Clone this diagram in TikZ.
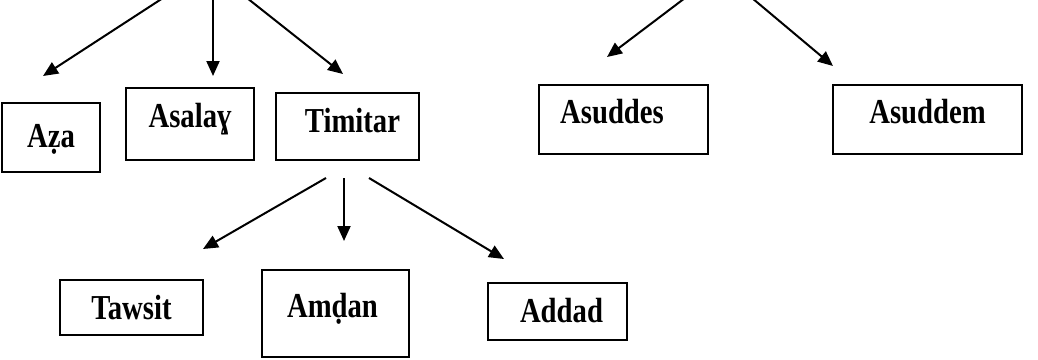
\documentclass[tikz,border=0pt]{standalone}
\usepackage{fontspec}
\setmainfont[FakeStretch=0.82]{Liberation Serif}
\usetikzlibrary{arrows.meta, positioning, calc}

\begin{document}
\begin{tikzpicture}[x=0.5pt, y=-0.5pt,
    box/.style={draw, line width=1pt, inner sep=0pt,
        font=\fontsize{17.5}{19}\selectfont\bfseries},
    arr/.style={-{Triangle[length=7.5pt, width=6.5pt]}, line width=1pt}]
    \useasboundingbox (0,0) rectangle (1038,359);

    % first row of boxes
    \node[box, minimum width=49pt, text height=22pt, text depth=12.5pt] (aza) at (51,137.5) {Aẓa};
    \node[box, minimum width=64pt, text height=19.5pt, text depth=16.5pt] (asalay) at (190,124) {Asalaɣ};
    \node[box, minimum width=71.5pt, text height=19.5pt, text depth=14pt] (timitar) at (347.5,126.5) {\mbox{}\hspace{5pt}Timitar};
    \node[box, minimum width=84.5pt, text height=19pt, text depth=15.5pt] (asuddes) at (623.5,119.5) {Asuddes\hspace{11.5pt}\mbox{}};
    \node[box, minimum width=94.5pt, text height=19pt, text depth=15.5pt] (asuddem) at (927.5,119.5) {Asuddem};

    % second row of boxes
    \node[box, minimum width=71.5pt, text height=19.5pt, text depth=8pt] (tawsit) at (131.5,307.5) {Tawsit};
    \node[box, minimum width=73.5pt, text height=23.5pt, text depth=20pt] (amdan) at (335.5,313.5) {Amḍan\hspace{3pt}\mbox{}};
    \node[box, minimum width=69.5pt, text height=19.5pt, text depth=9pt] (addad) at (557.5,311.5) {\mbox{}\hspace{4pt}Addad};

    % arrow ends
    \coordinate (topA) at (163,-2);
    \coordinate (topB) at (213,-2);
    \coordinate (topC) at (247,-2);
    \coordinate (topD) at (685,-2);
    \coordinate (topE) at (752,-2);
    \coordinate (toAza) at (43,76);
    \coordinate (toAsalay) at (213,76);
    \coordinate (toTimitar) at (343,74);
    \coordinate (toAsuddes) at (607,57);
    \coordinate (toAsuddem) at (833,66);
    \coordinate (fromL) at (326,178);
    \coordinate (fromM) at (344,178);
    \coordinate (fromR) at (369,178);
    \coordinate (toTawsit) at (203,249);
    \coordinate (toAmdan) at (344,241);
    \coordinate (toAddad) at (504,259);

    % arrows
    \draw[arr] (topA) -- (toAza);
    \draw[arr] (topB) -- (toAsalay);
    \draw[arr] (topC) -- (toTimitar);
    \draw[arr] (topD) -- (toAsuddes);
    \draw[arr] (topE) -- (toAsuddem);
    \draw[arr] (fromL) -- (toTawsit);
    \draw[arr] (fromM) -- (toAmdan);
    \draw[arr] (fromR) -- (toAddad);
\end{tikzpicture}
\end{document}
